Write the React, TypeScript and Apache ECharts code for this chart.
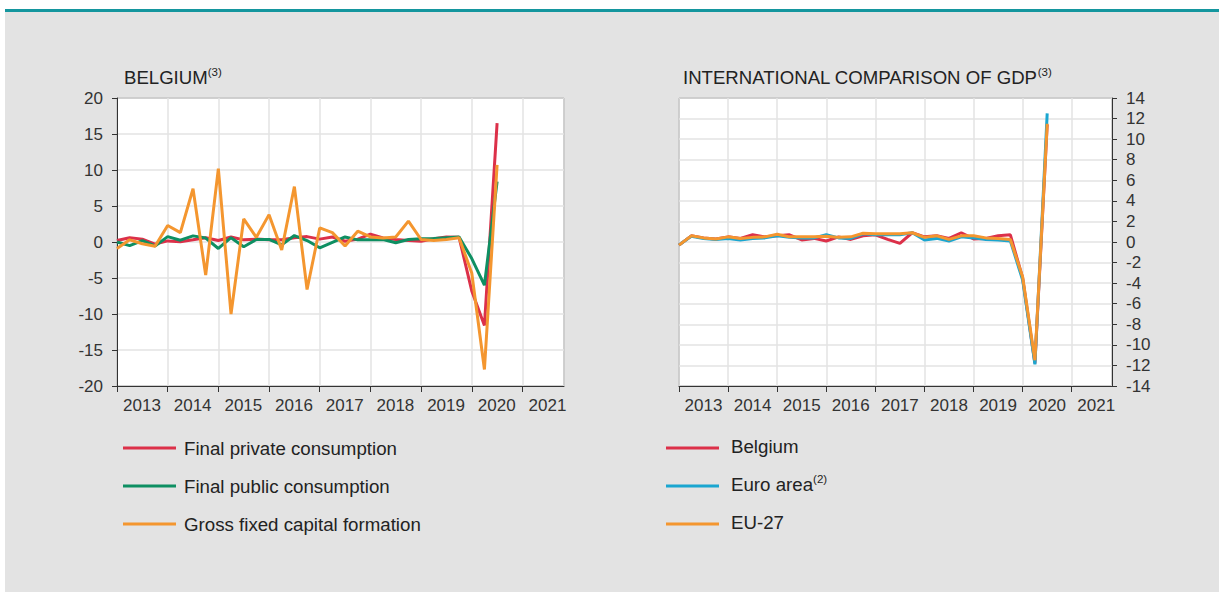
import React, { useEffect, useRef } from "react";
import * as echarts from "echarts";

const quarters = [
  "2013Q1", "2013Q2", "2013Q3", "2013Q4",
  "2014Q1", "2014Q2", "2014Q3", "2014Q4",
  "2015Q1", "2015Q2", "2015Q3", "2015Q4",
  "2016Q1", "2016Q2", "2016Q3", "2016Q4",
  "2017Q1", "2017Q2", "2017Q3", "2017Q4",
  "2018Q1", "2018Q2", "2018Q3", "2018Q4",
  "2019Q1", "2019Q2", "2019Q3", "2019Q4",
  "2020Q1", "2020Q2", "2020Q3",
];

// Belgium (left panel)
const privateConsumption = [
  0.2, 0.6, 0.4, -0.3, 0.15, 0.05, 0.3, 0.6, 0.2, 0.7, 0.3, 0.4, 0.3, 0.3, 0.6, 0.75,
  0.4, 0.7, 0.1, 0.4, 1.1, 0.55, 0.35, 0.2, 0.1, 0.45, 0.7, 0.65, -6.8, -11.6, 16.5,
];
const publicConsumption = [
  0.0, -0.5, 0.2, -0.55, 0.75, 0.25, 0.85, 0.55, -0.9, 0.6, -0.65, 0.35, 0.35, -0.4, 0.9, 0.2,
  -0.8, -0.05, 0.7, 0.3, 0.3, 0.35, -0.1, 0.35, 0.45, 0.5, 0.6, 0.7, -2.3, -6.0, 8.4,
];
const capitalFormation = [
  -0.9, 0.3, -0.25, -0.6, 2.3, 1.3, 7.4, -4.6, 10.2, -10.0, 3.2, 0.65, 3.8, -1.1, 7.7, -6.6,
  1.95, 1.3, -0.55, 1.5, 0.7, 0.55, 0.7, 2.9, 0.35, 0.2, 0.35, 0.6, -4.3, -17.7, 10.7,
];

// International comparison (right panel)
const gdpBelgium = [
  -0.3, 0.6, 0.4, 0.3, 0.5, 0.35, 0.7, 0.5, 0.6, 0.7, 0.2, 0.35, 0.1, 0.5, 0.25, 0.6,
  0.7, 0.25, -0.13, 0.9, 0.5, 0.6, 0.35, 0.9, 0.3, 0.35, 0.6, 0.7, -3.5, -11.8, 11.4,
];
const gdpEuroArea = [
  -0.3, 0.55, 0.35, 0.25, 0.35, 0.2, 0.35, 0.4, 0.6, 0.45, 0.4, 0.4, 0.7, 0.4, 0.35, 0.8,
  0.7, 0.7, 0.7, 0.9, 0.2, 0.35, 0.1, 0.5, 0.4, 0.25, 0.2, 0.1, -3.7, -11.9, 12.5,
];
const gdpEU27 = [
  -0.3, 0.6, 0.4, 0.3, 0.5, 0.35, 0.45, 0.5, 0.75, 0.5, 0.5, 0.5, 0.55, 0.45, 0.5, 0.85,
  0.8, 0.8, 0.8, 0.9, 0.45, 0.6, 0.25, 0.6, 0.6, 0.4, 0.35, 0.25, -3.4, -11.5, 11.5,
];

const leftTitle = "BELGIUM";
const rightTitle = "INTERNATIONAL COMPARISON OF GDP";
const titleNote = "(3)";
const leftLegend = ["Final private consumption", "Final public consumption", "Gross fixed capital formation"];
const rightLegend = ["Belgium", "Euro area", "EU-27"];
const euroNote = "(2)";

const RED = "#dc3049";
const GREEN = "#0e8f62";
const ORANGE = "#f4962f";
const BLUE = "#1aa6d0";
const TEAL = "#14969e";
const BG = "#e3e3e3";
const FONT = "'Liberation Sans', Arial, sans-serif";

function quarterToNum(q: string): number {
  const y = parseInt(q.slice(0, 4), 10);
  const n = parseInt(q.slice(5), 10);
  return y + (n - 1) / 4;
}

function pairs(vals: number[]) {
  return vals.map((v, i) => [quarterToNum(quarters[i]), v]);
}

function xAxisFor(gridIndex: number, pad: number) {
  return {
    type: "value",
    gridIndex,
    min: 2013,
    max: 2021.82,
    interval: 1,
    axisLine: { show: true, onZero: false, lineStyle: { color: "#333", width: 1 } },
    axisTick: { show: true, length: 6, lineStyle: { color: "#333", width: 1 } },
    axisLabel: {
      show: true,
      showMaxLabel: false,
      showMinLabel: true,
      margin: 11,
      padding: [0, 0, 0, pad],
      color: "#333",
      fontSize: 17,
      fontFamily: FONT,
      formatter: (v: number) => (Math.abs(v - Math.round(v)) < 1e-6 ? String(Math.round(v)) : ""),
    },
    splitLine: { show: true, lineStyle: { color: "#e3e3e3", width: 1.5 } },
  };
}

function yAxisFor(gridIndex: number, min: number, max: number, interval: number, position: string) {
  return {
    type: "value",
    gridIndex,
    min,
    max,
    interval,
    position,
    axisLine: { show: true, onZero: false, lineStyle: { color: "#333", width: 1 } },
    axisTick: { show: true, length: 5, lineStyle: { color: "#333", width: 1 } },
    axisLabel: {
      margin: 14,
      color: "#333",
      fontSize: 17,
      fontFamily: FONT,
    },
    splitLine: { show: true, lineStyle: { color: "#e3e3e3", width: 1.5 } },
  };
}

function lineSeries(name: string, vals: number[], color: string, idx: number) {
  return {
    type: "line",
    name,
    xAxisIndex: idx,
    yAxisIndex: idx,
    data: pairs(vals),
    showSymbol: false,
    symbol: "none",
    lineStyle: { color, width: 3 },
    itemStyle: { color },
    z: 3,
  };
}

function legendItems(names: string[], colors: string[], lineX: number, textX: number, ys: number[], textDy: number, notes: string[]) {
  const els: any[] = [];
  names.forEach((n, i) => {
    els.push({
      type: "line",
      shape: { x1: lineX, y1: ys[i], x2: lineX + 53, y2: ys[i] },
      style: { stroke: colors[i], lineWidth: 3 },
    });
    els.push({
      type: "text",
      x: textX,
      y: ys[i] + textDy,
      style: {
        text: notes[i] ? `{m|${n}}{s|${notes[i]}}` : `{m|${n}}`,
        rich: {
          m: { fontSize: 18.7, fontFamily: FONT, fill: "#222", lineHeight: 22 },
          s: { fontSize: 11.5, fontFamily: FONT, fill: "#222", lineHeight: 22, verticalAlign: "top", padding: [0, 0, 7, 0] },
        },
        verticalAlign: "middle",
        align: "left",
      },
    });
  });
  return els;
}

function titleText(x: number, y: number, text: string) {
  return {
    type: "text",
    x,
    y,
    style: {
      text: `{m|${text}}{s|${titleNote}}`,
      rich: {
        m: { fontSize: 18.6, fontFamily: FONT, fill: "#222", lineHeight: 22 },
        s: { fontSize: 11.5, fontFamily: FONT, fill: "#222", lineHeight: 22, verticalAlign: "top", padding: [0, 0, 8, 0] },
      },
      verticalAlign: "middle",
      align: "left",
    },
  };
}

export default function App() {
  const ref = useRef<HTMLDivElement>(null);

  useEffect(() => {
    if (!ref.current) return;
    const chart = echarts.init(ref.current, undefined, { renderer: "svg" });
    const option: any = {
      animation: false,
      backgroundColor: "#ffffff",
      graphic: [
        { type: "rect", z: -10, shape: { x: 5, y: 11, width: 1214, height: 581 }, style: { fill: BG } },
        { type: "rect", z: -9, shape: { x: 5, y: 9, width: 1214, height: 3 }, style: { fill: TEAL } },
        titleText(124, 77, leftTitle),
        titleText(683, 77, rightTitle),
        ...legendItems(leftLegend, [RED, GREEN, ORANGE], 123, 184, [448, 486, 524], 0, ["", "", ""]),
        ...legendItems(rightLegend, [RED, BLUE, ORANGE], 666, 731, [448, 486, 524], -2, ["", euroNote, ""]),
      ],
      grid: [
        { left: 117, top: 98, width: 447, height: 288, show: true, backgroundColor: "#ffffff", borderColor: "#333", borderWidth: 1 },
        { left: 679, top: 98, width: 433, height: 288, show: true, backgroundColor: "#ffffff", borderColor: "#333", borderWidth: 1 },
      ],
      xAxis: [xAxisFor(0, 50), xAxisFor(1, 49)],
      yAxis: [yAxisFor(0, -20, 20, 5, "left"), yAxisFor(1, -14, 14, 2, "right")],
      series: [
        lineSeries(leftLegend[0], privateConsumption, RED, 0),
        lineSeries(leftLegend[1], publicConsumption, GREEN, 0),
        lineSeries(leftLegend[2], capitalFormation, ORANGE, 0),
        lineSeries(rightLegend[0], gdpBelgium, RED, 1),
        lineSeries(rightLegend[1], gdpEuroArea, BLUE, 1),
        lineSeries(rightLegend[2], gdpEU27, ORANGE, 1),
      ],
    };
    chart.setOption(option);
    return () => chart.dispose();
  }, []);

  return (
    <div
      ref={ref}
      style={{ position: "fixed", left: 0, top: 0, width: 1219, height: 592 }}
    />
  );
}
